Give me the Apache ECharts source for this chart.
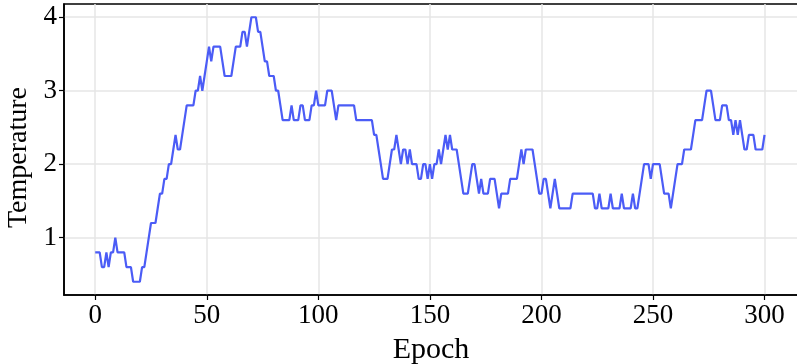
<!DOCTYPE html>
<html>
<head>
<meta charset="utf-8">
<script src="https://cdn.jsdelivr.net/npm/echarts@6/dist/echarts.min.js"></script>
<style>
html,body{margin:0;padding:0;background:#fff;}
#chart{width:797px;height:364px;}
</style>
</head>
<body>
<div id="chart"></div>
<script>
// Temperature per epoch (epoch = index, 0..300)
const temperature = [
0.8,0.8,0.8,0.6,0.6,0.8,0.6,0.8,0.8,1.0,
0.8,0.8,0.8,0.8,0.6,0.6,0.6,0.4,0.4,0.4,
0.4,0.6,0.6,0.8,1.0,1.2,1.2,1.2,1.4,1.6,
1.6,1.8,1.8,2.0,2.0,2.2,2.4,2.2,2.2,2.4,
2.6,2.8,2.8,2.8,2.8,3.0,3.0,3.2,3.0,3.2,
3.4,3.6,3.4,3.6,3.6,3.6,3.6,3.4,3.2,3.2,
3.2,3.2,3.4,3.6,3.6,3.6,3.8,3.8,3.6,3.8,
4.0,4.0,4.0,3.8,3.8,3.6,3.4,3.4,3.2,3.2,
3.2,3.0,3.0,2.8,2.6,2.6,2.6,2.6,2.8,2.6,
2.6,2.6,2.8,2.8,2.6,2.6,2.6,2.8,2.8,3.0,
2.8,2.8,2.8,2.8,3.0,3.0,3.0,2.8,2.6,2.8,
2.8,2.8,2.8,2.8,2.8,2.8,2.8,2.6,2.6,2.6,
2.6,2.6,2.6,2.6,2.6,2.4,2.4,2.2,2.0,1.8,
1.8,1.8,2.0,2.2,2.2,2.4,2.2,2.0,2.2,2.2,
2.0,2.2,2.0,2.0,2.0,1.8,1.8,2.0,2.0,1.8,
2.0,1.8,2.0,2.0,2.2,2.0,2.2,2.4,2.2,2.4,
2.2,2.2,2.2,2.0,1.8,1.6,1.6,1.6,1.8,2.0,
2.0,1.8,1.6,1.8,1.6,1.6,1.6,1.8,1.8,1.8,
1.6,1.4,1.6,1.6,1.6,1.6,1.8,1.8,1.8,1.8,
2.0,2.2,2.0,2.2,2.2,2.2,2.2,2.0,1.8,1.6,
1.6,1.8,1.8,1.6,1.4,1.6,1.8,1.6,1.4,1.4,
1.4,1.4,1.4,1.4,1.6,1.6,1.6,1.6,1.6,1.6,
1.6,1.6,1.6,1.6,1.4,1.4,1.6,1.4,1.4,1.4,
1.4,1.6,1.4,1.4,1.4,1.4,1.6,1.4,1.4,1.4,
1.4,1.6,1.4,1.4,1.6,1.8,2.0,2.0,2.0,1.8,
2.0,2.0,2.0,2.0,1.8,1.6,1.6,1.6,1.4,1.6,
1.8,2.0,2.0,2.0,2.2,2.2,2.2,2.2,2.4,2.6,
2.6,2.6,2.6,2.8,3.0,3.0,3.0,2.8,2.6,2.6,
2.6,2.8,2.8,2.8,2.6,2.6,2.4,2.6,2.4,2.6,
2.4,2.2,2.2,2.4,2.4,2.4,2.2,2.2,2.2,2.2,
2.4
];
const xTicks = [0, 50, 100, 150, 200, 250, 300];
const yTicks = [1, 2, 3, 4];
const xLabel = 'Epoch';
const yLabel = 'Temperature';

const seriesData = temperature.map((v, i) => [i, v]);

const font = 'Liberation Serif';
const chart = echarts.init(document.getElementById('chart'), null, {renderer: 'canvas'});
chart.setOption({
  animation: false,
  backgroundColor: '#ffffff',
  grid: {
    left: 64, right: -1, top: 4, bottom: 69,
    containLabel: false,
    outerBoundsMode: 'none',
    show: true, borderColor: '#000', borderWidth: 1.6, backgroundColor: 'transparent'
  },
  xAxis: {
    type: 'value', min: -14, max: 315,
    name: xLabel, nameLocation: 'middle', nameGap: 40,
    nameTextStyle: {fontFamily: font, fontSize: 30, color: '#000'},
    axisLine: {show: true, onZero: false, lineStyle: {color: '#000', width: 1.6}},
    axisTick: {show: true, inside: false, length: 5, customValues: xTicks, lineStyle: {color: '#000', width: 1.2}},
    axisLabel: {customValues: xTicks, fontFamily: font, fontSize: 27, color: '#000', margin: 7},
    splitLine: {show: true, lineStyle: {color: '#e6e6e6', width: 1.5}}
  },
  yAxis: {
    type: 'value', min: 0.22, max: 4.18,
    name: yLabel, nameLocation: 'middle', nameGap: 30, nameRotate: 90,
    nameTextStyle: {fontFamily: font, fontSize: 28, color: '#000', padding: [0, 16, 0, 0]},
    axisLine: {show: true, onZero: false, lineStyle: {color: '#000', width: 1.6}},
    axisTick: {show: true, inside: false, length: 5, customValues: yTicks, lineStyle: {color: '#000', width: 1.2}},
    axisLabel: {customValues: yTicks, fontFamily: font, fontSize: 27, color: '#000', margin: 7},
    splitLine: {show: true, lineStyle: {color: '#e6e6e6', width: 1.5}}
  },
  series: [{
    type: 'line',
    data: seriesData,
    showSymbol: false,
    symbol: 'none',
    lineStyle: {color: '#4b5cf6', width: 2.2},
    itemStyle: {color: '#4b5cf6'},
    z: 3
  }]
});
</script>
</body>
</html>
